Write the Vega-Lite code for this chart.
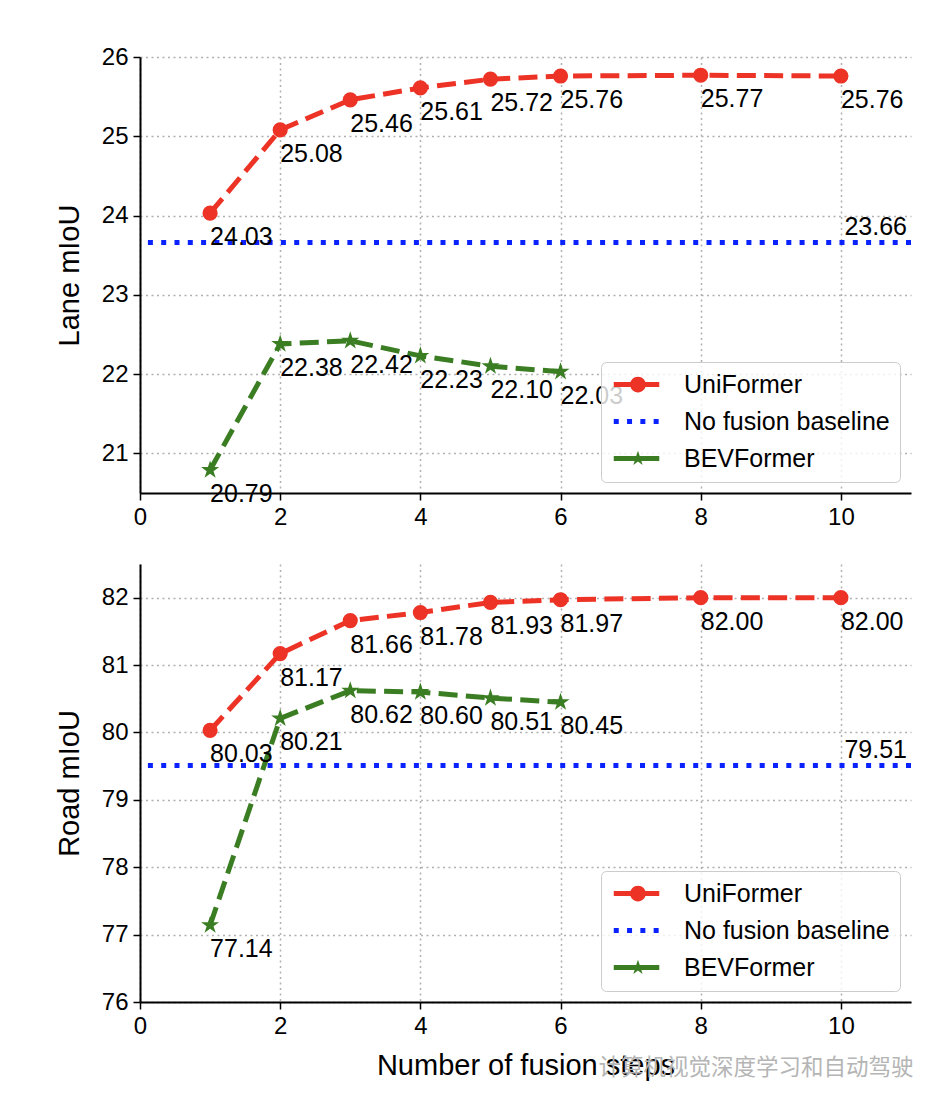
{
  "$schema": "https://vega.github.io/schema/vega-lite/v6.json",
  "background": "white",
  "padding": {"left": 55, "top": 45, "right": 10, "bottom": 5},
  "config": {
    "font": "Liberation Sans",
    "view": {"stroke": null},
    "axis": {
      "labelFont": "Liberation Sans", "labelFontSize": 24, "labelColor": "black", "labelFlush": false,
      "titleFont": "Liberation Sans", "titleFontSize": 29, "titleFontWeight": "normal", "titleColor": "black",
      "domainColor": "black", "domainWidth": 2, "tickColor": "black", "tickSize": 7, "tickWidth": 1.5,
      "gridColor": "#b0b0b0", "gridDash": [2, 3.5], "gridWidth": 1.5, "labelPadding": 5
    },
    "legend": {
      "title": null, "orient": "bottom-right", "offset": 11,
      "strokeColor": "#cccccc", "fillColor": "rgba(255,255,255,0.8)", "cornerRadius": 5, "padding": 10,
      "labelFont": "Liberation Sans", "labelFontSize": 25, "labelColor": "black", "labelLimit": 400,
      "symbolSize": 225, "symbolStrokeWidth": 0, "symbolOpacity": 1, "labelOffset": 48, "rowPadding": 11
    },
    "concat": {"spacing": 35},
    "title": {"font": "Noto Sans CJK SC", "fontSize": 22.5, "fontWeight": "normal", "color": "#b5b5b5"}
  },
  "title": {"text": "计算机视觉深度学习和自动驾驶", "orient": "bottom", "anchor": "end", "offset": -23},
  "datasets": {
    "lane": [
      {"step": 1, "value": 24.03, "series": "UniFormer"},
      {"step": 2, "value": 25.08, "series": "UniFormer"},
      {"step": 3, "value": 25.46, "series": "UniFormer"},
      {"step": 4, "value": 25.61, "series": "UniFormer"},
      {"step": 5, "value": 25.72, "series": "UniFormer"},
      {"step": 6, "value": 25.76, "series": "UniFormer"},
      {"step": 8, "value": 25.77, "series": "UniFormer"},
      {"step": 10, "value": 25.76, "series": "UniFormer"},
      {"step": 1, "value": 20.79, "series": "BEVFormer"},
      {"step": 2, "value": 22.38, "series": "BEVFormer"},
      {"step": 3, "value": 22.42, "series": "BEVFormer"},
      {"step": 4, "value": 22.23, "series": "BEVFormer"},
      {"step": 5, "value": 22.10, "series": "BEVFormer"},
      {"step": 6, "value": 22.03, "series": "BEVFormer"}
    ],
    "laneBase": [{"value": 23.66, "series": "No fusion baseline"}],
    "road": [
      {"step": 1, "value": 80.03, "series": "UniFormer"},
      {"step": 2, "value": 81.17, "series": "UniFormer"},
      {"step": 3, "value": 81.66, "series": "UniFormer"},
      {"step": 4, "value": 81.78, "series": "UniFormer"},
      {"step": 5, "value": 81.93, "series": "UniFormer"},
      {"step": 6, "value": 81.97, "series": "UniFormer"},
      {"step": 8, "value": 82.00, "series": "UniFormer"},
      {"step": 10, "value": 82.00, "series": "UniFormer"},
      {"step": 1, "value": 77.14, "series": "BEVFormer"},
      {"step": 2, "value": 80.21, "series": "BEVFormer"},
      {"step": 3, "value": 80.62, "series": "BEVFormer"},
      {"step": 4, "value": 80.60, "series": "BEVFormer"},
      {"step": 5, "value": 80.51, "series": "BEVFormer"},
      {"step": 6, "value": 80.45, "series": "BEVFormer"}
    ],
    "roadBase": [{"value": 79.51, "series": "No fusion baseline"}],
    "legendItems": [
      {"series": "UniFormer"},
      {"series": "No fusion baseline"},
      {"series": "BEVFormer"}
    ]
  },
  "vconcat": [
    {
      "width": 771,
      "height": 436,
      "encoding": {
        "x": {"field": "step", "type": "quantitative", "scale": {"domain": [0, 11], "nice": false},
              "axis": {"values": [0, 2, 4, 6, 8, 10], "title": null, "format": "d"}},
        "y": {"field": "value", "type": "quantitative", "scale": {"domain": [20.5, 26], "nice": false, "zero": false},
              "axis": {"values": [21, 22, 23, 24, 25, 26], "title": "Lane mIoU", "titlePadding": 17, "format": "d"}}
      },
      "layer": [
        {
          "data": {"name": "laneBase"},
          "mark": {"type": "rule", "color": "#0a22ff", "strokeWidth": 5, "strokeDash": [5, 8.3]},
          "encoding": {"x": null}
        },
        {
          "data": {"name": "lane"},
          "transform": [{"filter": "datum.series == 'UniFormer'"}],
          "mark": {"type": "line", "color": "#ec3326", "strokeWidth": 5, "strokeDash": [19, 8.3]}
        },
        {
          "data": {"name": "lane"},
          "transform": [{"filter": "datum.series == 'BEVFormer'"}],
          "mark": {"type": "line", "color": "#3a7d22", "strokeWidth": 5, "strokeDash": [19, 8.3]}
        },
        {
          "data": {"name": "lane"},
          "transform": [{"filter": "datum.series == 'UniFormer'"}],
          "mark": {"type": "point", "filled": true, "shape": "circle", "size": 230, "color": "#ec3326", "opacity": 1}
        },
        {
          "data": {"name": "lane"},
          "transform": [{"filter": "datum.series == 'BEVFormer'"}],
          "mark": {"type": "point", "filled": true, "shape": "M0,-1L0.2245,-0.309L0.951,-0.309L0.363,0.118L0.588,0.809L0,0.382L-0.588,0.809L-0.363,0.118L-0.951,-0.309L-0.2245,-0.309Z", "size": 360, "color": "#3a7d22", "opacity": 1}
        },
        {
          "data": {"name": "lane"},
          "mark": {"type": "text", "align": "left", "baseline": "middle", "dy": 24, "fontSize": 25, "color": "black", "font": "Liberation Sans"},
          "encoding": {"text": {"field": "value", "type": "quantitative", "format": ".2f"}}
        },
        {
          "data": {"name": "laneBase"},
          "mark": {"type": "text", "align": "right", "baseline": "middle", "dx": -4, "dy": -15, "fontSize": 25, "color": "black", "font": "Liberation Sans"},
          "encoding": {
            "x": {"value": "width"},
            "y": {"field": "value", "type": "quantitative"},
            "text": {"field": "value", "type": "quantitative", "format": ".2f"}
          }
        },
        {
          "data": {"name": "legendItems"},
          "transform": [{"filter": "datum.series == null"}],
          "mark": {"type": "point", "filled": true, "size": 225, "opacity": 1},
          "encoding": {
            "x": null, "y": null,
            "color": {"field": "series", "type": "nominal",
              "scale": {"domain": ["UniFormer", "No fusion baseline", "BEVFormer"], "range": ["#ec3326", "#0a22ff", "#3a7d22"]}},
            "shape": {"field": "series", "type": "nominal",
              "scale": {"domain": ["UniFormer", "No fusion baseline", "BEVFormer"],
                "range": [
                  "M-1.3,-0.333H4.77V0.333H-1.3Z M0.88,0A1.05,1.05 0 1,1 2.98,0A1.05,1.05 0 1,1 0.88,0Z",
                  "M-1.3,-0.333h0.667v0.667h-0.667Z M0.473,-0.333h0.667v0.667h-0.667Z M2.247,-0.333h0.667v0.667h-0.667Z M4.02,-0.333h0.667v0.667h-0.667Z",
                  "M-1.3,-0.333H4.77V0.333H-1.3Z M1.93,-1.05L2.166,-0.324L2.929,-0.324L2.312,0.124L2.547,0.85L1.93,0.401L1.313,0.85L1.548,0.124L0.931,-0.324L1.694,-0.324Z"
                ]}}
          }
        }
      ]
    },
    {
      "width": 771,
      "height": 438,
      "encoding": {
        "x": {"field": "step", "type": "quantitative", "scale": {"domain": [0, 11], "nice": false},
              "axis": {"values": [0, 2, 4, 6, 8, 10], "title": "Number of fusion steps", "titlePadding": 13, "format": "d"}},
        "y": {"field": "value", "type": "quantitative", "scale": {"domain": [76, 82.5], "nice": false, "zero": false},
              "axis": {"values": [76, 77, 78, 79, 80, 81, 82], "title": "Road mIoU", "titlePadding": 17, "format": "d"}}
      },
      "layer": [
        {
          "data": {"name": "roadBase"},
          "mark": {"type": "rule", "color": "#0a22ff", "strokeWidth": 5, "strokeDash": [5, 8.3]},
          "encoding": {"x": null}
        },
        {
          "data": {"name": "road"},
          "transform": [{"filter": "datum.series == 'UniFormer'"}],
          "mark": {"type": "line", "color": "#ec3326", "strokeWidth": 5, "strokeDash": [19, 8.3]}
        },
        {
          "data": {"name": "road"},
          "transform": [{"filter": "datum.series == 'BEVFormer'"}],
          "mark": {"type": "line", "color": "#3a7d22", "strokeWidth": 5, "strokeDash": [19, 8.3]}
        },
        {
          "data": {"name": "road"},
          "transform": [{"filter": "datum.series == 'UniFormer'"}],
          "mark": {"type": "point", "filled": true, "shape": "circle", "size": 230, "color": "#ec3326", "opacity": 1}
        },
        {
          "data": {"name": "road"},
          "transform": [{"filter": "datum.series == 'BEVFormer'"}],
          "mark": {"type": "point", "filled": true, "shape": "M0,-1L0.2245,-0.309L0.951,-0.309L0.363,0.118L0.588,0.809L0,0.382L-0.588,0.809L-0.363,0.118L-0.951,-0.309L-0.2245,-0.309Z", "size": 360, "color": "#3a7d22", "opacity": 1}
        },
        {
          "data": {"name": "road"},
          "mark": {"type": "text", "align": "left", "baseline": "middle", "dy": 24, "fontSize": 25, "color": "black", "font": "Liberation Sans"},
          "encoding": {"text": {"field": "value", "type": "quantitative", "format": ".2f"}}
        },
        {
          "data": {"name": "roadBase"},
          "mark": {"type": "text", "align": "right", "baseline": "middle", "dx": -4, "dy": -15, "fontSize": 25, "color": "black", "font": "Liberation Sans"},
          "encoding": {
            "x": {"value": "width"},
            "y": {"field": "value", "type": "quantitative"},
            "text": {"field": "value", "type": "quantitative", "format": ".2f"}
          }
        },
        {
          "data": {"name": "legendItems"},
          "transform": [{"filter": "datum.series == null"}],
          "mark": {"type": "point", "filled": true, "size": 225, "opacity": 1},
          "encoding": {
            "x": null, "y": null,
            "color": {"field": "series", "type": "nominal",
              "scale": {"domain": ["UniFormer", "No fusion baseline", "BEVFormer"], "range": ["#ec3326", "#0a22ff", "#3a7d22"]}},
            "shape": {"field": "series", "type": "nominal",
              "scale": {"domain": ["UniFormer", "No fusion baseline", "BEVFormer"],
                "range": [
                  "M-1.3,-0.333H4.77V0.333H-1.3Z M0.88,0A1.05,1.05 0 1,1 2.98,0A1.05,1.05 0 1,1 0.88,0Z",
                  "M-1.3,-0.333h0.667v0.667h-0.667Z M0.473,-0.333h0.667v0.667h-0.667Z M2.247,-0.333h0.667v0.667h-0.667Z M4.02,-0.333h0.667v0.667h-0.667Z",
                  "M-1.3,-0.333H4.77V0.333H-1.3Z M1.93,-1.05L2.166,-0.324L2.929,-0.324L2.312,0.124L2.547,0.85L1.93,0.401L1.313,0.85L1.548,0.124L0.931,-0.324L1.694,-0.324Z"
                ]}}
          }
        }
      ]
    }
  ],
  "resolve": {
    "scale": {"x": "independent", "y": "independent", "color": "independent", "shape": "independent"},
    "legend": {"color": "independent", "shape": "independent"}
  }
}
